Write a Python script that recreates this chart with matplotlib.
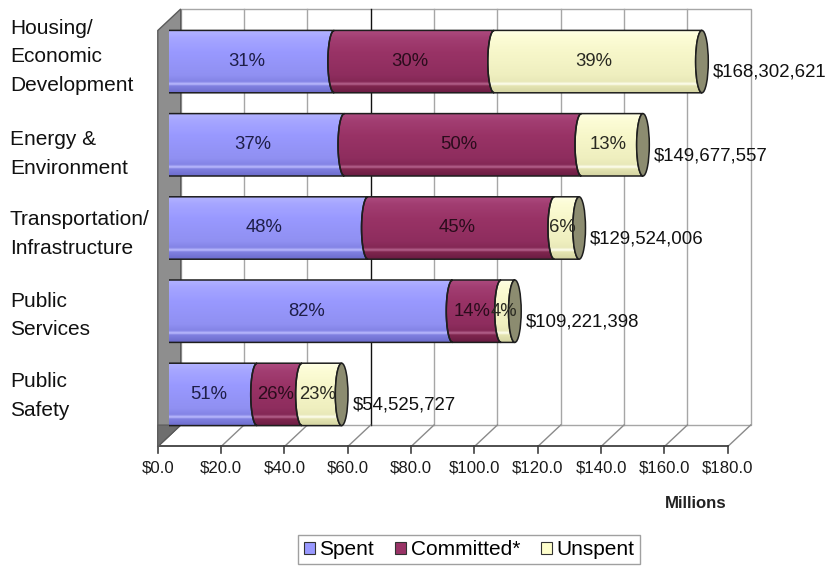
import numpy as np
import matplotlib
matplotlib.use('Agg')
import matplotlib.pyplot as plt
from matplotlib import transforms, font_manager
from matplotlib.patches import Polygon, Ellipse, Patch
from matplotlib.colors import LinearSegmentedColormap

plt.rcParams['font.family'] = ['Liberation Sans', 'DejaVu Sans']
_names = {f.name for f in font_manager.fontManager.ttflist}
HAS_NARROW = 'Liberation Sans Narrow' in _names
NARROW = ['Liberation Sans Narrow', 'Liberation Sans', 'DejaVu Sans'] if HAS_NARROW else ['Liberation Sans', 'DejaVu Sans']
NS = 1.0 if HAS_NARROW else 0.86   # size factor if narrow face missing

# ---------------- data ----------------
categories = ['Housing/\nEconomic\nDevelopment', 'Energy &\nEnvironment',
              'Transportation/\nInfrastructure', 'Public\nServices', 'Public\nSafety']
totals = [168302621, 149677557, 129524006, 109221398, 54525727]
spent_pct = [31, 37, 48, 82, 51]
committed_pct = [30, 50, 45, 14, 26]
unspent_pct = [39, 13, 6, 4, 23]
series_names = ['Spent', 'Committed*', 'Unspent']
x_ticks = [0, 20, 40, 60, 80, 100, 120, 140, 160, 180]
x_tick_labels = ['$0.0', '$20.0', '$40.0', '$60.0', '$80.0', '$100.0',
                 '$120.0', '$140.0', '$160.0', '$180.0']
total_labels = ['$168,302,621', '$149,677,557', '$129,524,006',
                '$109,221,398', '$54,525,727']

# ---------------- style ----------------
base_colors = ['#9999FF', '#993366', '#FFFFCC']
grad_stops = [
    [(0, '#B4B4FF'), (0.12, '#A6A6FF'), (0.35, '#9999FF'), (0.72, '#9090F2'),
     (0.82, '#8484E6'), (0.86, '#BDBDFF'), (0.89, '#8080E0'), (1, '#6C6CCC')],
    [(0, '#AE4C80'), (0.12, '#A23E72'), (0.35, '#993366'), (0.72, '#8E2D5E'),
     (0.82, '#842855'), (0.86, '#B76690'), (0.89, '#80264F'), (1, '#6A1C42')],
    [(0, '#FFFFE6'), (0.12, '#FCFCD6'), (0.35, '#F7F7CA'), (0.72, '#EFEFBF'),
     (0.82, '#E8E8B8'), (0.86, '#FFFFF2'), (0.89, '#E4E4B2'), (1, '#D4D4A2')],
]
text_colors = ['#1E1E48', '#2A0C1C', '#2A2A22']
label_dy = [-0.06, 0.11, 0.07, 0.05, 0.02]   # category label nudges

W, H, DPI = 828, 567, 100
fig = plt.figure(figsize=(W / DPI, H / DPI), dpi=DPI)
fig.patch.set_facecolor('white')

# main (middle depth) plane in pixels
left_px, right_px, top_px, bot_px = 169, 739, 20, 436
ax = fig.add_axes([left_px / W, 1 - bot_px / H, (right_px - left_px) / W, (bot_px - top_px) / H])
ax.set_xlim(0, 180)
ax.set_ylim(4.5, -0.5)
ax.axis('off')

BX, BY = 11.7, -11.0   # back plane offset (px, y down)
FX, FY = -11.2, 10.5   # front plane offset


def off(dx, dy):
    return ax.transData + transforms.ScaledTranslation(dx / DPI, -dy / DPI, fig.dpi_scale_trans)


back_t = off(BX, BY)
front_t = off(FX, FY)
xmax = x_ticks[-1]
ytop, ybot = -0.5, 4.5
grid_col = '#A6A6A6'
px_y = 83.2  # px per category unit

# back wall
ax.add_patch(Polygon([(0, ytop), (xmax, ytop), (xmax, ybot), (0, ybot)], closed=True,
                     facecolor='white', edgecolor=grid_col, lw=1.0, transform=back_t,
                     clip_on=False, zorder=0))
for x in x_ticks[1:-1]:
    ax.plot([x, x], [ytop, ybot], color=('#111111' if x == 60 else grid_col),
            lw=1.0, transform=back_t, clip_on=False, zorder=0.5)

# floor
for x in x_ticks:
    bx, by = back_t.transform((x, ybot))
    fx, fy = front_t.transform((x, ybot))
    ln = plt.Line2D([bx, fx], [by, fy], color='#8A8A8A', lw=1.0, transform=None, zorder=0.6)
    ax.add_line(ln)
    ln.set_clip_on(False)
ax.plot([0, xmax], [ybot, ybot], color='#404040', lw=1.3, transform=front_t,
        clip_on=False, zorder=0.7)
tick_len = 7 / px_y
for x, lab in zip(x_ticks, x_tick_labels):
    ax.plot([x, x], [ybot, ybot + tick_len], color='#404040', lw=1.2,
            transform=front_t, clip_on=False, zorder=0.7)
    ax.text(x, ybot, lab, transform=off(FX, FY + 22), ha='center', va='center',
            fontsize=14 * NS, color='#1A1A1A', family=NARROW)

# left side wall
p_bt = back_t.transform((0, ytop))
p_bb = back_t.transform((0, ybot))
p_fb = front_t.transform((0, ybot))
p_ft = front_t.transform((0, ytop))
wall = Polygon([p_ft, p_bt, p_bb, p_fb], closed=True, facecolor='#8E8E8E',
               edgecolor='#5A5A5A', lw=1.0, transform=None, zorder=0.8)
ax.add_artist(wall)
wall.set_clip_on(False)
p_fm = (p_fb[0], p_fb[1] + (p_bb[1] - p_fb[1]))
tri = Polygon([p_fm, p_fb, p_bb], closed=True, facecolor='#6E6E6E', edgecolor='#5A5A5A',
              lw=0.8, transform=None, zorder=0.85)
ax.add_artist(tri)
tri.set_clip_on(False)

# ---------------- cylinders ----------------
bar_h = 0.75
h = bar_h / 2
rx = 2.0
tt = np.linspace(-1, 1, 61)
cmaps = [LinearSegmentedColormap.from_list('g%d' % k, s) for k, s in enumerate(grad_stops)]
gv = np.linspace(0, 1, 128)

pcts = [spent_pct, committed_pct, unspent_pct]
for i, tot in enumerate(totals):
    tot_m = tot / 1e6
    s = sum(p[i] for p in pcts)
    a = 0.0
    c = i
    ys = c + h * tt
    arc = rx * np.sqrt(1 - tt ** 2)
    for k in range(3):
        val = tot_m * pcts[k][i] / s
        b = a + val
        verts = np.column_stack([np.r_[a - arc, (b - arc)[::-1]], np.r_[ys, ys[::-1]]])
        poly = Polygon(verts, closed=True, facecolor=base_colors[k], edgecolor='none',
                       zorder=2)
        ax.add_patch(poly)
        img = cmaps[k](gv)[:, None, :]
        im = ax.imshow(img, extent=(a - rx, b, c + h, c - h), origin='upper',
                       aspect='auto', interpolation='bilinear', zorder=2.1)
        im.set_clip_path(poly)
        ax.add_patch(Polygon(verts, closed=True, fill=False, edgecolor='#1E1E1E',
                             lw=1.1, zorder=2.2))
        ax.text((a + b) / 2 - rx * 0.7, c, f'{pcts[k][i]}%', ha='center', va='center',
                fontsize=15.5 * NS, color=text_colors[k], zorder=4, family=NARROW)
        a = b
    ax.add_patch(Ellipse((tot_m, c), 2 * rx, 2 * h, facecolor='#8C8C70',
                         edgecolor='#1E1E1E', lw=1.1, zorder=2.3))
    ax.text(tot_m + rx + 1.4, c + 0.13, total_labels[i], ha='left', va='center',
            fontsize=15.6 * NS, color='#111111', zorder=4, family=NARROW)

# category labels
lab_t = transforms.blended_transform_factory(fig.transFigure, ax.transData)
for i, cat in enumerate(categories):
    ax.text(10 / W, i + label_dy[i], cat, transform=lab_t, ha='left', va='center',
            fontsize=15, linespacing=1.63, color='#111111')

# axis title
fig.text(696 / W, 1 - 504 / H, 'Millions', ha='center', va='center', fontsize=14 * NS,
         fontweight='bold', color='#222222', family=NARROW)

# legend
handles = [Patch(facecolor=base_colors[k], edgecolor='#333333', lw=0.8) for k in range(3)]
leg = fig.legend(handles, series_names, loc='upper center',
                 bbox_to_anchor=(469 / W, 1 - 535 / H), ncol=3,
                 prop={'family': NARROW, 'size': 17.5 * NS},
                 frameon=True, fancybox=False, handlelength=0.55, handleheight=0.55,
                 handletextpad=0.2, columnspacing=1.0, borderpad=0.25, borderaxespad=0)
leg.get_frame().set_edgecolor('#888888')
leg.get_frame().set_linewidth(1.0)

fig.savefig('out.png', dpi=DPI, facecolor='white')
